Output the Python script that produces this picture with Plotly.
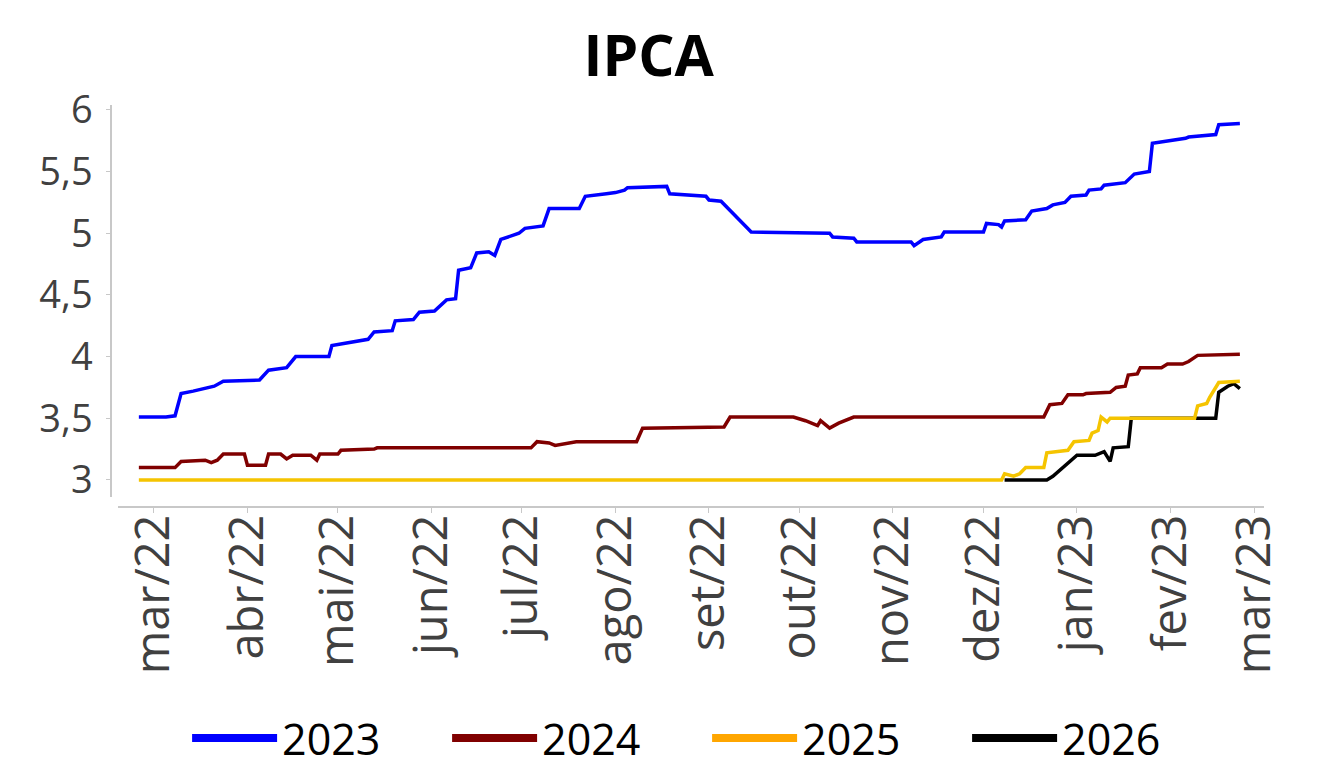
import plotly.graph_objects as go

# Expectativas do IPCA (Focus)
datas_2023 = [
    "2022-02-24", "2022-03-05", "2022-03-08", "2022-03-10", "2022-03-14", "2022-03-18",
    "2022-03-21", "2022-03-24", "2022-04-05", "2022-04-08", "2022-04-14", "2022-04-17",
    "2022-04-28", "2022-04-29", "2022-05-07", "2022-05-11", "2022-05-13", "2022-05-19",
    "2022-05-20", "2022-05-26", "2022-05-28", "2022-06-02", "2022-06-06", "2022-06-09",
    "2022-06-10", "2022-06-14", "2022-06-16", "2022-06-20", "2022-06-22", "2022-06-24",
    "2022-06-30", "2022-07-02", "2022-07-08", "2022-07-10", "2022-07-20", "2022-07-22",
    "2022-07-29", "2022-08-01", "2022-08-04", "2022-08-05", "2022-08-18", "2022-08-19",
    "2022-08-31", "2022-09-01", "2022-09-05", "2022-09-10", "2022-09-15", "2022-10-11",
    "2022-10-12", "2022-10-19", "2022-10-20", "2022-11-07", "2022-11-08", "2022-11-11",
    "2022-11-17", "2022-11-18", "2022-12-01", "2022-12-02", "2022-12-06", "2022-12-07",
    "2022-12-08", "2022-12-15", "2022-12-17", "2022-12-22", "2022-12-24", "2022-12-28",
    "2022-12-30", "2023-01-04", "2023-01-05", "2023-01-09", "2023-01-10", "2023-01-17",
    "2023-01-20", "2023-01-25", "2023-01-26", "2023-02-06", "2023-02-07", "2023-02-16",
    "2023-02-17", "2023-02-24",
]
ipca_2023 = [
    3.51, 3.51, 3.52, 3.70, 3.72, 3.74,
    3.76, 3.80, 3.81, 3.89, 3.91, 4.00,
    4.00, 4.09, 4.12, 4.14, 4.20, 4.21,
    4.29, 4.30, 4.36, 4.37, 4.46, 4.47,
    4.70, 4.72, 4.84, 4.85, 4.82, 4.95,
    5.00, 5.04, 5.06, 5.20, 5.20, 5.30,
    5.32, 5.33, 5.35, 5.37, 5.38, 5.32,
    5.30, 5.27, 5.26, 5.13, 5.01, 5.00,
    4.97, 4.96, 4.93, 4.93, 4.90, 4.95,
    4.97, 5.01, 5.01, 5.08, 5.07, 5.05,
    5.10, 5.11, 5.18, 5.20, 5.23, 5.25,
    5.30, 5.31, 5.35, 5.36, 5.39, 5.41,
    5.48, 5.50, 5.73, 5.77, 5.78, 5.80,
    5.88, 5.89,
]

datas_2024 = [
    "2022-02-24", "2022-03-08", "2022-03-10", "2022-03-18", "2022-03-20", "2022-03-22",
    "2022-03-24", "2022-03-31", "2022-04-01", "2022-04-07", "2022-04-08", "2022-04-12",
    "2022-04-14", "2022-04-16", "2022-04-22", "2022-04-24", "2022-04-25", "2022-05-01",
    "2022-05-02", "2022-05-13", "2022-05-14", "2022-07-04", "2022-07-06", "2022-07-10",
    "2022-07-12", "2022-07-17", "2022-07-19", "2022-08-08", "2022-08-10", "2022-09-06",
    "2022-09-08", "2022-09-29", "2022-10-03", "2022-10-07", "2022-10-08", "2022-10-11",
    "2022-10-14", "2022-10-19", "2022-12-21", "2022-12-23", "2022-12-27", "2022-12-29",
    "2023-01-03", "2023-01-04", "2023-01-12", "2023-01-14", "2023-01-17", "2023-01-18",
    "2023-01-21", "2023-01-22", "2023-01-29", "2023-01-31", "2023-02-05", "2023-02-07",
    "2023-02-10", "2023-02-24",
]
ipca_2024 = [
    3.10, 3.10, 3.15, 3.16, 3.14, 3.16,
    3.21, 3.21, 3.12, 3.12, 3.21, 3.21,
    3.17, 3.20, 3.20, 3.16, 3.21, 3.21,
    3.24, 3.25, 3.26, 3.26, 3.31, 3.30,
    3.28, 3.30, 3.31, 3.31, 3.42, 3.43,
    3.51, 3.51, 3.48, 3.44, 3.48, 3.42,
    3.46, 3.51, 3.51, 3.61, 3.62, 3.69,
    3.69, 3.70, 3.71, 3.75, 3.76, 3.85,
    3.86, 3.91, 3.91, 3.94, 3.94, 3.96,
    4.01, 4.02,
]

datas_2025 = [
    "2022-02-24", "2022-12-07", "2022-12-08", "2022-12-10", "2022-12-11", "2022-12-13",
    "2022-12-15", "2022-12-21", "2022-12-22", "2022-12-29", "2022-12-31", "2023-01-05",
    "2023-01-06", "2023-01-08", "2023-01-09", "2023-01-11", "2023-01-12", "2023-02-09",
    "2023-02-10", "2023-02-13", "2023-02-14", "2023-02-17", "2023-02-24",
]
ipca_2025 = [
    3.00, 3.00, 3.05, 3.04, 3.03, 3.05,
    3.10, 3.10, 3.22, 3.24, 3.31, 3.32,
    3.38, 3.40, 3.51, 3.47, 3.50, 3.50,
    3.60, 3.62, 3.67, 3.79, 3.80,
]

datas_2026 = [
    "2022-12-08", "2022-12-22", "2022-12-24", "2022-12-29", "2023-01-01", "2023-01-07",
    "2023-01-10", "2023-01-12", "2023-01-13", "2023-01-18", "2023-01-19", "2023-02-16",
    "2023-02-17", "2023-02-20", "2023-02-22", "2023-02-24",
]
ipca_2026 = [
    3.00, 3.00, 3.03, 3.14, 3.20, 3.20,
    3.23, 3.15, 3.26, 3.27, 3.50, 3.50,
    3.71, 3.76, 3.78, 3.74,
]

meses = [
    "2022-03-01", "2022-04-01", "2022-05-01", "2022-06-01", "2022-07-01", "2022-08-01",
    "2022-09-01", "2022-10-01", "2022-11-01", "2022-12-01", "2023-01-01", "2023-02-01",
    "2023-03-01",
]
rotulos_meses = ["mar/22", "abr/22", "mai/22", "jun/22", "jul/22", "ago/22", "set/22",
                 "out/22", "nov/22", "dez/22", "jan/23", "fev/23", "mar/23"]
ticks_y = [3, 3.5, 4, 4.5, 5, 5.5, 6]
rotulos_y = ["3", "3,5", "4", "4,5", "5", "5,5", "6"]

# cor da linha e cor do traço na legenda
cores = {"2023": "#0000FF", "2024": "#800000", "2025": "#F5C400", "2026": "#000000"}
cores_legenda = {"2023": "#0000FF", "2024": "#800000", "2025": "#FFA600", "2026": "#000000"}
series = {
    "2023": (datas_2023, ipca_2023),
    "2024": (datas_2024, ipca_2024),
    "2025": (datas_2025, ipca_2025),
    "2026": (datas_2026, ipca_2026),
}

fig = go.Figure()

# linhas (2025 desenhada por cima de 2026)
for ano in ["2023", "2024", "2026", "2025"]:
    x, y = series[ano]
    fig.add_trace(go.Scatter(x=x, y=y, mode="lines", name=ano, showlegend=False,
                             line=dict(color=cores[ano], width=3.5)))

# entradas da legenda com traço mais grosso
for ano in ["2023", "2024", "2025", "2026"]:
    fig.add_trace(go.Scatter(x=[None], y=[None], mode="lines", name=ano,
                             line=dict(color=cores_legenda[ano], width=8)))

# a página tem 8px de margem no body, por isso as margens estão deslocadas
fig.update_layout(
    width=1321,
    height=768,
    margin=dict(l=103, r=65, t=97, b=269, pad=0, autoexpand=False),
    plot_bgcolor="white",
    paper_bgcolor="white",
    title=dict(text="<b>IPCA</b>", x=0.485, xref="container", xanchor="center",
               y=0.938, yref="container", yanchor="middle",
               font=dict(family="Open Sans", size=57, color="#000000")),
    legend=dict(orientation="h", x=0.066, xanchor="left", y=-0.575, yanchor="middle",
                itemwidth=85, entrywidth=160, entrywidthmode="pixels",
                bgcolor="rgba(0,0,0,0)",
                font=dict(family="Open Sans", size=43, color="#000000")),
    showlegend=True,
)

fig.update_xaxes(
    type="date",
    range=["2022-02-17 01:30", "2023-03-04"],
    domain=[0.006, 1],
    anchor="free", position=0,
    automargin=False,
    showline=True, linecolor="#c8c8c8", linewidth=1.5,
    ticks="outside", ticklen=5, tickcolor="#c8c8c8",
    tickvals=meses, ticktext=rotulos_meses, tickangle=-90,
    ticklabelstandoff=-17,
    tickfont=dict(family="Open Sans", size=47, color="#404040"),
    showgrid=False, zeroline=False,
)
fig.update_yaxes(
    range=[2.862, 6.04],
    domain=[0.025, 1],
    anchor="free", position=0,
    automargin=False,
    showline=True, linecolor="#c8c8c8", linewidth=1.5,
    ticks="outside", ticklen=4, tickcolor="#c8c8c8",
    tickvals=ticks_y, ticktext=rotulos_y,
    ticklabelstandoff=6,
    tickfont=dict(family="Open Sans", size=38, color="#404040"),
    showgrid=False, zeroline=False,
)

fig.write_html("out.html")
